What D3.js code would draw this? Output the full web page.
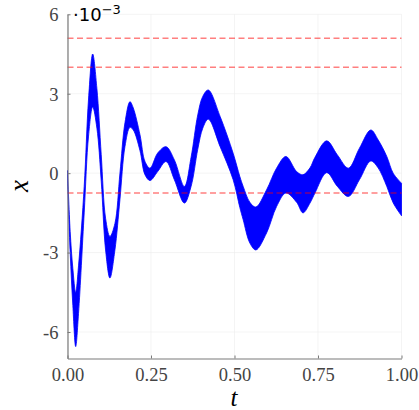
<!DOCTYPE html>
<html>
<head>
<meta charset="utf-8">
<script src="https://cdn.jsdelivr.net/npm/d3@7"></script>
<style>
  html, body { margin: 0; padding: 0; background: #fff; }
  svg { display: block; }
</style>
</head>
<body>
<svg id="chart" width="419" height="410"></svg>
<script>
// Time samples of the oscillation envelope (units of 1e-3 for x)
const tValues = [0.000, 0.008, 0.016, 0.0245, 0.033, 0.050, 0.063, 0.0754, 0.088, 0.101,
                 0.114, 0.127, 0.142, 0.157, 0.172, 0.187, 0.197, 0.217, 0.232, 0.247,
                 0.270, 0.295, 0.320, 0.350, 0.370, 0.390, 0.405, 0.4216, 0.457, 0.496,
                 0.516, 0.526, 0.546, 0.564, 0.596, 0.626, 0.654, 0.686, 0.705, 0.726,
                 0.741, 0.776, 0.808, 0.841, 0.874, 0.908, 0.930, 0.956, 0.975, 1.000];
// Upper edge of the band
const upperValues = [0.10, -2.2, -3.6, -4.5, -3.5, -0.5, 2.8, 4.5, 3.2, 0.7,
                     -1.7, -2.39, -1.9, 0.0, 1.9, 2.7, 2.46, 1.45, 0.44, 0.19,
                     0.76, 1.00, 0.50, -0.50, 0.6, 2.2, 2.9, 3.14, 2.14, 0.75,
                     -0.13, -0.5, -1.1, -1.28, -0.63, 0.19, 0.63, 0.06, -0.06, 0.2,
                     0.6, 1.22, 0.69, 0.19, 0.94, 1.63, 1.26, 0.63, 0.0, -0.38];
// Lower edge of the band
const lowerValues = [-0.20, -3.0, -5.0, -6.55, -5.3, -1.5, 1.4, 2.5, 1.7, -0.3,
                     -2.9, -3.96, -2.9, -1.0, 1.0, 1.73, 1.63, 0.85, -0.06, -0.28,
                     0.06, 0.44, -0.25, -1.13, -0.5, 0.9, 1.7, 2.04, 1.0, -0.25,
                     -1.3, -1.76, -2.64, -2.9, -2.26, -1.26, -0.75, -1.1, -1.5, -1.13,
                     -0.75, 0.02, -0.5, -0.88, -0.25, 0.46, 0.2, -0.5, -1.12, -1.61];
// Horizontal reference levels
const refLevels = [5.1, 4.0, -0.75];
// Tick values and labels
const xTicks = [0, 0.25, 0.5, 0.75, 1.0];
const xTickLabels = ["0.00", "0.25", "0.50", "0.75", "1.00"];
const yTicks = [6, 3, 0, -3, -6];
const yTickLabels = ["6", "3", "0", "-3", "-6"];

const svg = d3.select("#chart");
const plotLeft = 67.5, plotRight = 401.5, plotTop = 14.3, plotBottom = 358.5;

const x = d3.scaleLinear().domain([0, 1]).range([plotLeft, plotRight]);
const y = d3.scaleLinear().domain([-7, 6]).range([plotBottom, plotTop]);

const serif = "'Liberation Serif', 'Times New Roman', serif";

// Grid
const grid = svg.append("g").attr("stroke", "#ececec").attr("stroke-width", 0.6);
grid.selectAll("line.gx").data(xTicks).join("line")
  .attr("class", "gx")
  .attr("x1", d => x(d)).attr("x2", d => x(d))
  .attr("y1", plotTop).attr("y2", plotBottom);
grid.selectAll("line.gy").data(yTicks).join("line")
  .attr("class", "gy")
  .attr("x1", plotLeft).attr("x2", plotRight)
  .attr("y1", d => y(d)).attr("y2", d => y(d));

// Oscillation band
const pts = tValues.map((t, i) => ({ t, hi: upperValues[i], lo: lowerValues[i] }));
const area = d3.area()
  .x(d => x(d.t))
  .y0(d => y(d.lo))
  .y1(d => y(d.hi))
  .curve(d3.curveCatmullRom.alpha(0.5));
svg.append("path")
  .datum(pts)
  .attr("d", area)
  .attr("fill", "#0000ff")
  .attr("stroke", "#0000ff")
  .attr("stroke-width", 0.8);

// Reference levels
svg.append("g").selectAll("line").data(refLevels).join("line")
  .attr("x1", plotLeft).attr("x2", plotRight)
  .attr("y1", d => y(d)).attr("y2", d => y(d))
  .attr("stroke", "#ff0000")
  .attr("stroke-opacity", 0.5)
  .attr("stroke-width", 1.5)
  .attr("stroke-dasharray", "6,3.5");

// Axes
const xAxis = d3.axisBottom(x).tickValues(xTicks)
  .tickFormat((d, i) => xTickLabels[i]).tickSizeInner(-3).tickSizeOuter(0).tickPadding(9);
const yAxis = d3.axisLeft(y).tickValues(yTicks)
  .tickFormat((d, i) => yTickLabels[i]).tickSizeInner(-3).tickSizeOuter(0).tickPadding(9);

const gx = svg.append("g").attr("transform", `translate(0,${plotBottom})`).call(xAxis);
const gy = svg.append("g").attr("transform", `translate(${plotLeft},0)`).call(yAxis);
[gx, gy].forEach(g => {
  g.select(".domain").attr("stroke", "#7a7a7a").attr("stroke-width", 1.2);
  g.selectAll(".tick line").attr("stroke", "#7a7a7a").attr("stroke-width", 1);
  g.selectAll(".tick text")
    .attr("font-family", serif)
    .attr("font-size", 18.5)
    .attr("fill", "#444");
});
gx.selectAll(".tick text").attr("dy", "0.71em");
gy.selectAll(".tick text").attr("dy", "0.34em");

// Axis titles
svg.append("text")
  .attr("x", 234).attr("y", 406)
  .attr("text-anchor", "middle")
  .attr("font-family", serif)
  .attr("font-style", "italic")
  .attr("font-size", 25)
  .text("t");
svg.append("text")
  .attr("transform", "translate(28,186) rotate(-90)")
  .attr("text-anchor", "middle")
  .attr("font-family", serif)
  .attr("font-style", "italic")
  .attr("font-size", 27)
  .text("x");

// Scale factor
const sf = svg.append("text")
  .attr("x", 73).attr("y", 20.5)
  .attr("font-family", "'DejaVu Sans', sans-serif")
  .attr("font-size", 18)
  .attr("fill", "#000");
sf.append("tspan").text("\u00B710");
sf.append("tspan").attr("dy", -7).attr("font-size", 13).text("\u22123");
</script>
</body>
</html>
